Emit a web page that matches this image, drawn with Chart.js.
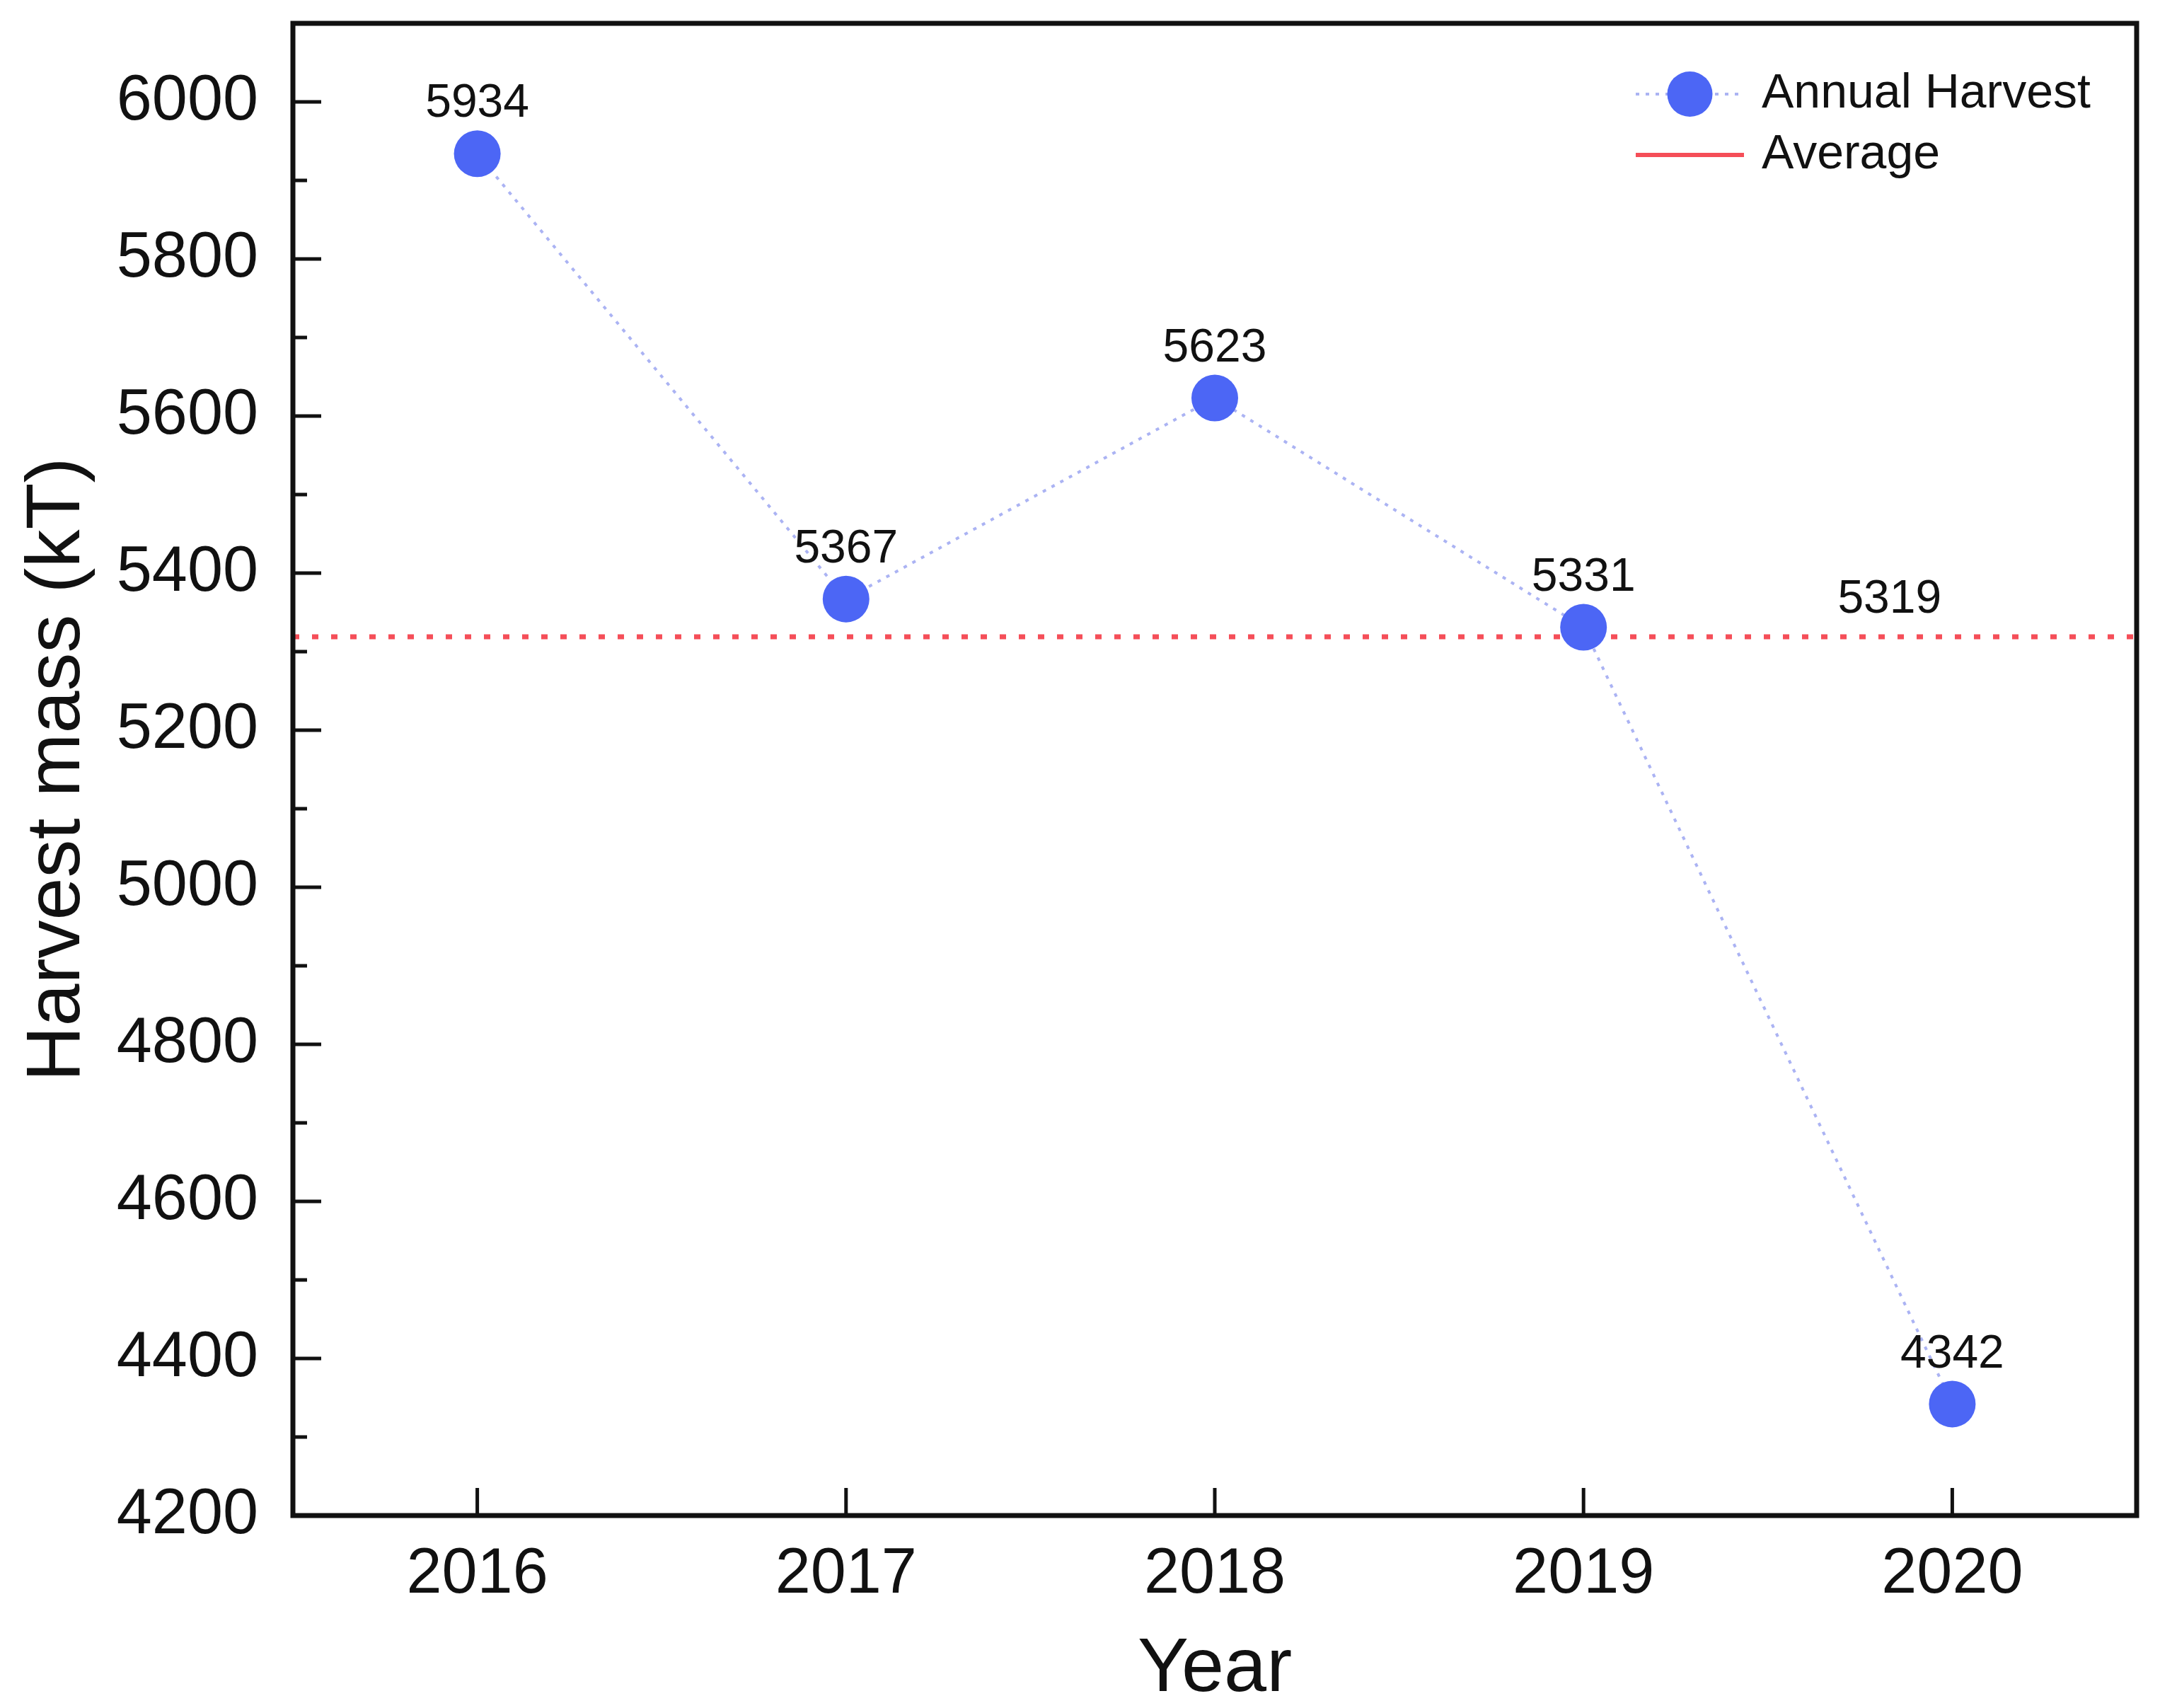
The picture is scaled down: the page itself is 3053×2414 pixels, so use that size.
<!DOCTYPE html>
<html>
<head>
<meta charset="utf-8">
<script src="https://cdn.jsdelivr.net/npm/chart.js@4"></script>
<style>
  body { margin: 0; background: #fff; }
  canvas { display: block; }
</style>
</head>
<body>
<canvas id="myChart" width="3053" height="2414"></canvas>
<script>
const years = [2016, 2017, 2018, 2019, 2020];
const harvest = [5934, 5367, 5623, 5331, 4342];
const averageValue = 5319;
const seriesNames = ["Annual Harvest", "Average"];
const yMin = 4200, yMax = 6100, yStep = 100, yLabelStep = 200;

const family = "'Liberation Sans', Arial, sans-serif";
const ink = "#111";
const blue = "rgb(76, 102, 245)";
const lineBlue = "rgba(150, 160, 240, 0.8)";
const red = "rgb(245, 78, 88)";

const xMin = years[0] - 0.5;
const xMax = years[years.length - 1] + 0.5;

// box around the plot + inward tick marks
const frameAndTicks = {
  id: 'frameAndTicks',
  afterDraw(chart) {
    const {ctx, chartArea: a, scales: {x, y}} = chart;
    ctx.save();
    ctx.strokeStyle = ink;
    ctx.lineWidth = 5;
    ctx.beginPath();
    y.ticks.forEach(t => {
      const py = y.getPixelForValue(t.value);
      const len = t.value % yLabelStep === 0 ? 40 : 20;
      ctx.moveTo(a.left, py);
      ctx.lineTo(a.left + len, py);
    });
    x.ticks.forEach(t => {
      const px = x.getPixelForValue(t.value);
      ctx.moveTo(px, a.bottom);
      ctx.lineTo(px, a.bottom - 39);
    });
    ctx.stroke();
    ctx.lineWidth = 7;
    ctx.strokeRect(a.left, a.top, a.right - a.left, a.bottom - a.top);
    ctx.restore();
  }
};

// value labels and legend
const labelsAndLegend = {
  id: 'labelsAndLegend',
  afterDatasetsDraw(chart) {
    const {ctx, scales: {x, y}} = chart;
    const meta = chart.getDatasetMeta(0);
    ctx.save();
    ctx.fillStyle = ink;
    ctx.textAlign = 'center';
    ctx.textBaseline = 'middle';
    ctx.font = "66px " + family;
    meta.data.forEach((pt, i) => {
      ctx.fillText(String(harvest[i]), pt.x, pt.y - 70);
    });
    ctx.fillText(String(averageValue), x.getPixelForValue(2019.83), y.getPixelForValue(averageValue) - 52);

    // legend
    const lx0 = 2312, lx1 = 2465, tx = 2490, r1 = 133, r2 = 219;
    ctx.strokeStyle = lineBlue;
    ctx.lineWidth = 4;
    ctx.setLineDash([5, 9]);
    ctx.beginPath();
    ctx.moveTo(lx0, r1); ctx.lineTo(lx1, r1);
    ctx.stroke();
    ctx.setLineDash([]);
    ctx.fillStyle = blue;
    ctx.beginPath();
    ctx.arc((lx0 + lx1) / 2, r1, 32, 0, Math.PI * 2);
    ctx.fill();
    ctx.strokeStyle = red;
    ctx.lineWidth = 6;
    ctx.beginPath();
    ctx.moveTo(lx0, r2); ctx.lineTo(lx1, r2);
    ctx.stroke();
    ctx.fillStyle = ink;
    ctx.textAlign = 'left';
    ctx.font = "68px " + family;
    ctx.fillText(seriesNames[0], tx, r1);
    ctx.fillText(seriesNames[1], tx, r2);
    ctx.restore();
  }
};

const config = {
  type: 'line',
  data: {
    datasets: [{
      label: seriesNames[0],
      data: years.map((yr, i) => ({x: yr, y: harvest[i]})),
      borderColor: lineBlue,
      borderWidth: 4,
      borderDash: [5, 9],
      pointRadius: 33,
      pointBackgroundColor: blue,
      pointBorderWidth: 0,
      tension: 0
    }, {
      label: seriesNames[1],
      data: [{x: xMin, y: averageValue}, {x: xMax, y: averageValue}],
      borderColor: red,
      borderWidth: 7,
      borderDash: [9, 18],
      pointRadius: 0
    }]
  },
  options: {
    responsive: false,
    devicePixelRatio: 1,
    animation: false,
    layout: { padding: { top: 29, right: 22, left: 0, bottom: 0 } },
    plugins: { legend: { display: false }, tooltip: { enabled: false } },
    scales: {
      x: {
        type: 'linear',
        min: xMin,
        max: xMax,
        afterBuildTicks: s => { s.ticks = years.map(v => ({value: v})); },
        afterFit: s => { s.height = 2414 - 2142; s.paddingLeft = 0; s.paddingRight = 0; },
        grid: { display: false, drawTicks: false },
        border: { display: false },
        ticks: { font: { family: family, size: 90 }, color: ink, padding: 30, callback: v => String(v) },
        title: { display: true, text: 'Year', color: ink, font: { family: family, size: 108, lineHeight: 1 }, padding: { top: 0, bottom: 0 } }
      },
      y: {
        min: yMin,
        max: yMax,
        afterFit: s => { s.width = 414; s.paddingTop = 0; s.paddingBottom = 0; },
        grid: { display: false, drawTicks: false },
        border: { display: false },
        ticks: { stepSize: yStep, autoSkip: false, font: { family: family, size: 90 }, color: ink, padding: 49,
          callback: v => v % yLabelStep === 0 ? String(v) : '' },
        title: { display: true, text: 'Harvest mass (kT)', color: ink, font: { family: family, size: 108, lineHeight: 1 }, padding: { top: 28, bottom: 0 } }
      }
    }
  },
  plugins: [frameAndTicks, labelsAndLegend]
};

var myChart = new Chart(document.getElementById('myChart'), config);
</script>
</body>
</html>
